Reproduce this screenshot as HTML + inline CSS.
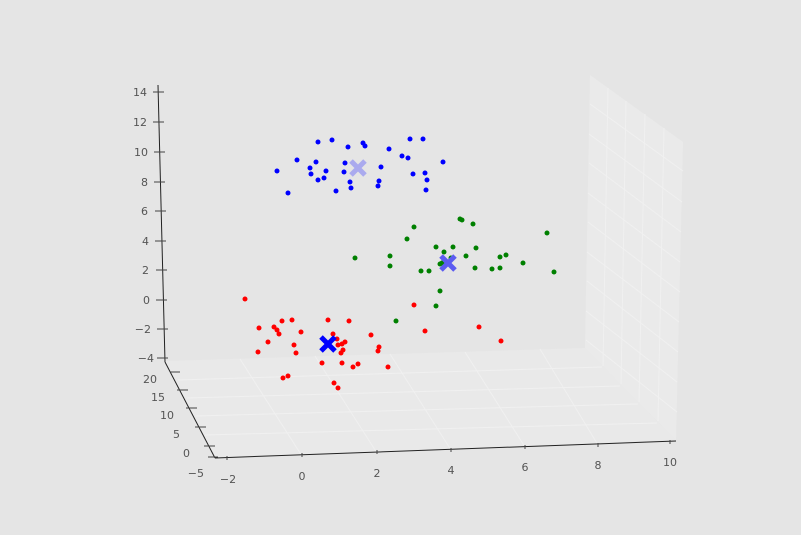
<!DOCTYPE html>
<html><head><meta charset="utf-8"><style>
html,body{margin:0;padding:0;background:#e5e5e5;}
svg{display:block;}
text{font-family:"DejaVu Sans","Liberation Sans",sans-serif;font-size:11px;fill:#555;}
</style></head><body>
<svg width="801" height="535" viewBox="0 0 801 535" xmlns="http://www.w3.org/2000/svg">
<rect width="801" height="535" fill="#e5e5e5"/>
<!-- right pane -->
<polygon points="590,75 683,142 676,440 585,348" fill="#eaeaea"/>
<!-- floor pane -->
<polygon points="165,361 585,348 676,440 215,458" fill="#e9e9e9"/>
<g stroke="#f0f0f0" stroke-width="1" fill="none">
<line x1="608" y1="88" x2="603" y2="366"/><line x1="626" y1="101" x2="621" y2="384"/>
<line x1="645" y1="114" x2="639" y2="402"/><line x1="664" y1="128" x2="658" y2="421"/>
<line x1="590" y1="104" x2="683" y2="171"/><line x1="589" y1="134" x2="682" y2="202"/>
<line x1="589" y1="163" x2="681" y2="232"/><line x1="588" y1="193" x2="680" y2="262"/>
<line x1="588" y1="222" x2="680" y2="292"/><line x1="587" y1="252" x2="679" y2="322"/>
<line x1="587" y1="281" x2="678" y2="352"/><line x1="586" y1="311" x2="677" y2="382"/>
<line x1="586" y1="340" x2="677" y2="412"/>
<line x1="240" y1="359" x2="302" y2="456"/><line x1="315" y1="356" x2="377" y2="453"/>
<line x1="390" y1="354" x2="451" y2="450"/><line x1="465" y1="352" x2="525" y2="447"/>
<line x1="540" y1="349" x2="598" y2="445"/>
<line x1="178" y1="380" x2="602" y2="367"/><line x1="187" y1="398" x2="620" y2="386"/>
<line x1="196" y1="416" x2="638" y2="404"/><line x1="205" y1="435" x2="657" y2="423"/>
</g>
<!-- axes -->
<g stroke="#222" stroke-width="1" fill="none">
<line x1="158" y1="85" x2="165" y2="362"/>
<line x1="165" y1="362" x2="215" y2="458"/>
<line x1="215" y1="458" x2="676" y2="441"/>
</g>
<g stroke="#444" stroke-width="1">
<line x1="153" y1="92" x2="164" y2="92"/><line x1="153" y1="122" x2="164" y2="122"/>
<line x1="154" y1="152" x2="165" y2="152"/><line x1="154" y1="182" x2="165" y2="182"/>
<line x1="155" y1="211" x2="166" y2="211"/><line x1="155" y1="241" x2="166" y2="241"/>
<line x1="156" y1="270" x2="167" y2="270"/><line x1="156" y1="300" x2="167" y2="300"/>
<line x1="157" y1="329" x2="168" y2="329"/><line x1="157" y1="358" x2="168" y2="358"/>
<line x1="170" y1="372" x2="180" y2="372"/><line x1="177" y1="390" x2="188" y2="390"/>
<line x1="186" y1="408" x2="197" y2="408"/><line x1="195" y1="427" x2="206" y2="427"/>
<line x1="204" y1="446" x2="215" y2="446"/><line x1="208" y1="457" x2="218" y2="457"/>
<line x1="227" y1="456" x2="227" y2="460"/><line x1="302" y1="453" x2="302" y2="457"/>
<line x1="377" y1="450" x2="377" y2="454"/><line x1="451" y1="448" x2="451" y2="452"/>
<line x1="525" y1="445" x2="525" y2="449"/><line x1="598" y1="443" x2="598" y2="447"/>
<line x1="670" y1="440" x2="670" y2="444"/>
</g>
<g text-anchor="end">
<text x="147" y="96">14</text><text x="147" y="126">12</text><text x="148" y="156">10</text>
<text x="148" y="186">8</text><text x="148" y="215">6</text><text x="149" y="245">4</text>
<text x="149" y="274">2</text><text x="150" y="304">0</text><text x="151" y="333">−2</text>
<text x="154" y="362">−4</text>
<text x="157" y="383">20</text><text x="165" y="401">15</text><text x="174" y="419">10</text>
<text x="180" y="438">5</text><text x="190" y="457">0</text><text x="204" y="477">−5</text>
</g>
<g text-anchor="middle">
<text x="228" y="483">−2</text><text x="302" y="480">0</text><text x="377" y="477">2</text>
<text x="451" y="474">4</text><text x="525" y="471">6</text><text x="598" y="469">8</text>
<text x="670" y="466">10</text>
</g>
<!-- red -->
<g fill="#ff0000">
<circle cx="245" cy="299" r="2.5"/><circle cx="259" cy="328" r="2.5"/><circle cx="258" cy="352" r="2.5"/><circle cx="268" cy="342" r="2.5"/><circle cx="274" cy="327" r="2.5"/><circle cx="277" cy="330" r="2.5"/><circle cx="279" cy="334" r="2.5"/><circle cx="282" cy="321" r="2.5"/><circle cx="292" cy="320" r="2.5"/><circle cx="301" cy="332" r="2.5"/><circle cx="294" cy="345" r="2.5"/><circle cx="296" cy="353" r="2.5"/><circle cx="283" cy="378" r="2.5"/><circle cx="288" cy="376" r="2.5"/><circle cx="328" cy="320" r="2.5"/><circle cx="333" cy="334" r="2.5"/><circle cx="337" cy="339" r="2.5"/><circle cx="338" cy="345" r="2.5"/><circle cx="342" cy="344" r="2.5"/><circle cx="345" cy="342" r="2.5"/><circle cx="343" cy="350" r="2.5"/><circle cx="341" cy="353" r="2.5"/><circle cx="349" cy="321" r="2.5"/><circle cx="322" cy="363" r="2.5"/><circle cx="342" cy="363" r="2.5"/><circle cx="353" cy="367" r="2.5"/><circle cx="358" cy="364" r="2.5"/><circle cx="371" cy="335" r="2.5"/><circle cx="379" cy="347" r="2.5"/><circle cx="378" cy="351" r="2.5"/><circle cx="388" cy="367" r="2.5"/><circle cx="334" cy="383" r="2.5"/><circle cx="338" cy="388" r="2.5"/><circle cx="414" cy="305" r="2.5"/><circle cx="425" cy="331" r="2.5"/><circle cx="479" cy="327" r="2.5"/><circle cx="501" cy="341" r="2.5"/>
</g>
<!-- green -->
<g fill="#008000">
<circle cx="414" cy="227" r="2.5"/><circle cx="407" cy="239" r="2.5"/><circle cx="460" cy="219" r="2.5"/><circle cx="462" cy="220" r="2.5"/><circle cx="473" cy="224" r="2.5"/><circle cx="547" cy="233" r="2.5"/><circle cx="436" cy="247" r="2.5"/><circle cx="444" cy="252" r="2.5"/><circle cx="453" cy="247" r="2.5"/><circle cx="476" cy="248" r="2.5"/><circle cx="466" cy="256" r="2.5"/><circle cx="500" cy="257" r="2.5"/><circle cx="506" cy="255" r="2.5"/><circle cx="523" cy="263" r="2.5"/><circle cx="492" cy="269" r="2.5"/><circle cx="500" cy="268" r="2.5"/><circle cx="475" cy="268" r="2.5"/><circle cx="554" cy="272" r="2.5"/><circle cx="421" cy="271" r="2.5"/><circle cx="429" cy="271" r="2.5"/><circle cx="440" cy="264" r="2.5"/><circle cx="442" cy="263" r="2.5"/><circle cx="440" cy="291" r="2.5"/><circle cx="436" cy="306" r="2.5"/><circle cx="355" cy="258" r="2.5"/><circle cx="390" cy="256" r="2.5"/><circle cx="390" cy="266" r="2.5"/><circle cx="396" cy="321" r="2.5"/><circle cx="451" cy="258" r="2.5"/>
</g>
<!-- blue -->
<g fill="#0000ff">
<circle cx="277" cy="171" r="2.5"/><circle cx="288" cy="193" r="2.5"/><circle cx="297" cy="160" r="2.5"/><circle cx="310" cy="168" r="2.5"/><circle cx="316" cy="162" r="2.5"/><circle cx="311" cy="174" r="2.5"/><circle cx="318" cy="180" r="2.5"/><circle cx="326" cy="171" r="2.5"/><circle cx="324" cy="178" r="2.5"/><circle cx="336" cy="191" r="2.5"/><circle cx="318" cy="142" r="2.5"/><circle cx="332" cy="140" r="2.5"/><circle cx="348" cy="147" r="2.5"/><circle cx="345" cy="163" r="2.5"/><circle cx="344" cy="172" r="2.5"/><circle cx="350" cy="182" r="2.5"/><circle cx="351" cy="188" r="2.5"/><circle cx="363" cy="143" r="2.5"/><circle cx="365" cy="146" r="2.5"/><circle cx="378" cy="186" r="2.5"/><circle cx="379" cy="181" r="2.5"/><circle cx="381" cy="167" r="2.5"/><circle cx="389" cy="149" r="2.5"/><circle cx="402" cy="156" r="2.5"/><circle cx="408" cy="158" r="2.5"/><circle cx="410" cy="139" r="2.5"/><circle cx="423" cy="139" r="2.5"/><circle cx="413" cy="174" r="2.5"/><circle cx="425" cy="173" r="2.5"/><circle cx="427" cy="180" r="2.5"/><circle cx="426" cy="190" r="2.5"/><circle cx="443" cy="162" r="2.5"/>
</g>
<!-- centroids -->
<g stroke-width="5" stroke-linecap="butt">
<path d="M351,161 L365,175 M365,161 L351,175" stroke="#aaaaee"/>
<path d="M441,256 L455,270 M455,256 L441,270" stroke="#5c5cf0"/>
<path d="M321,337 L335,351 M335,337 L321,351" stroke="#0000ff"/>
</g>
</svg>
</body></html>
